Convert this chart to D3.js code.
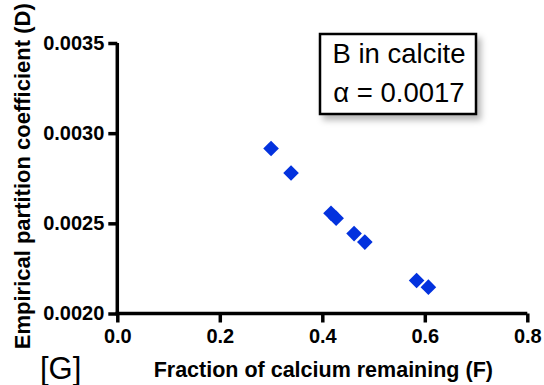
<!DOCTYPE html>
<html>
<head>
<meta charset="utf-8">
<script src="https://cdn.jsdelivr.net/npm/d3@7/dist/d3.min.js"></script>
<style>
  html, body { margin: 0; padding: 0; background: #fff; }
  svg { display: block; }
</style>
</head>
<body>
<script>
// Fraction of calcium remaining (F) and the empirical partition coefficient (D)
const fractionRemaining = [0.300, 0.339, 0.417, 0.427, 0.462, 0.483, 0.584, 0.607];
const partitionCoeff    = [0.002915, 0.002779, 0.002556, 0.002528, 0.002443, 0.002396, 0.002183, 0.002146];

const xTicks = [0.0, 0.2, 0.4, 0.6, 0.8];
const yTicks = [0.0020, 0.0025, 0.0030, 0.0035];

const legendLines = ["B in calcite", "\u03B1 = 0.0017"];
const panelLabel = "[G]";
const xTitle = "Fraction of calcium remaining (F)";
const yTitle = "Empirical partition coefficient (D)";

const W = 544, H = 385;
const plotLeft = 117.3, plotRight = 527.3, plotTop = 43, plotBottom = 313.5;

const svg = d3.select("body").append("svg")
  .attr("width", W).attr("height", H)
  .style("font-family", "'Liberation Sans', Arial, Helvetica, sans-serif");

const defs = svg.append("defs");
const shadow = defs.append("filter").attr("id", "boxShadow")
  .attr("x", "-20%").attr("y", "-20%").attr("width", "140%").attr("height", "150%");
shadow.append("feDropShadow")
  .attr("dx", 4).attr("dy", 5).attr("stdDeviation", 3)
  .attr("flood-color", "#000").attr("flood-opacity", 0.28);

const x = d3.scaleLinear().domain([0, 0.8]).range([plotLeft, plotRight]);
const y = d3.scaleLinear().domain([0.0020, 0.0035]).range([plotBottom, plotTop]);

// x axis
const gx = svg.append("g").attr("transform", `translate(0,${plotBottom})`)
  .call(d3.axisBottom(x).tickValues(xTicks).tickFormat(d3.format(".1f"))
    .tickSize(9).tickSizeOuter(0).tickPadding(6));
// y axis
const gy = svg.append("g").attr("transform", `translate(${plotLeft},0)`)
  .call(d3.axisLeft(y).tickValues(yTicks).tickFormat(d3.format(".4f"))
    .tickSize(9).tickSizeOuter(0).tickPadding(4));

[gx, gy].forEach(g => {
  g.select(".domain").attr("stroke", "#000").attr("stroke-width", 3.5);
  g.selectAll(".tick line").attr("stroke", "#000").attr("stroke-width", 3.5);
  g.selectAll(".tick text").attr("fill", "#000")
    .style("font-size", "20px").style("font-weight", "bold")
    .style("font-family", "'Liberation Sans', Arial, sans-serif");
});
// the two axis lines meet cleanly at the corner
gy.select(".domain").attr("d", `M0,${plotTop}V${plotBottom + 1.75}`);
gx.select(".domain").attr("d", `M${-1.75 + plotLeft},0H${plotRight}`);

// axis titles
svg.append("text")
  .attr("x", (plotLeft + plotRight) / 2 + 1).attr("y", 377)
  .attr("text-anchor", "middle")
  .style("font-size", "21.5px").style("font-weight", "bold")
  .text(xTitle);

svg.append("text")
  .attr("transform", `translate(30,${(plotTop + plotBottom) / 2 - 2}) rotate(-90)`)
  .attr("text-anchor", "middle")
  .style("font-size", "22px").style("font-weight", "bold")
  .text(yTitle);

// panel label
svg.append("text")
  .attr("x", 40).attr("y", 379)
  .style("font-size", "31px")
  .text(panelLabel);

// data markers: squares turned 45 degrees
svg.append("g").selectAll("path")
  .data(fractionRemaining.map((f, i) => [f, partitionCoeff[i]]))
  .join("path")
  .attr("d", d3.symbol(d3.symbolSquare, 122))
  .attr("transform", d => `translate(${x(d[0])},${y(d[1])}) rotate(45)`)
  .attr("fill", "#0332DE");

// legend box
const box = svg.append("g");
box.append("rect")
  .attr("x", 320).attr("y", 34).attr("width", 156).attr("height", 80)
  .attr("fill", "#fff").attr("stroke", "#000").attr("stroke-width", 2.5)
  .attr("filter", "url(#boxShadow)");
box.selectAll("text").data(legendLines).join("text")
  .attr("x", 399).attr("y", (d, i) => 63 + i * 38.5)
  .attr("text-anchor", "middle")
  .style("font-size", "27.5px")
  .text(d => d);
</script>
</body>
</html>
